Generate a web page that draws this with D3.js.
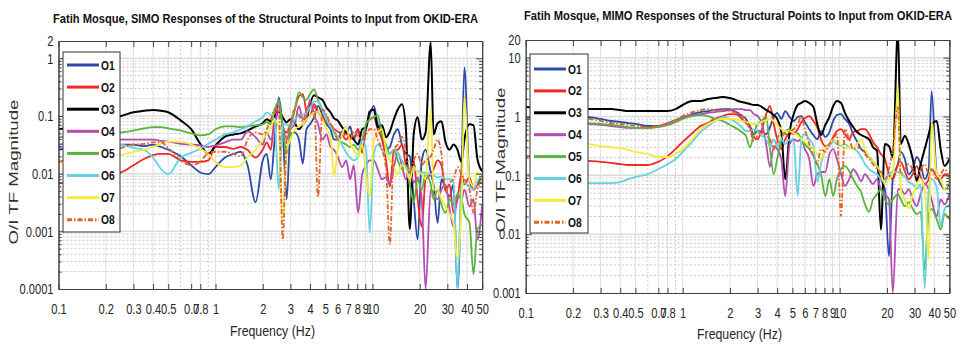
<!DOCTYPE html>
<html>
<head>
<meta charset="utf-8">
<script src="https://cdnjs.cloudflare.com/ajax/libs/d3/7.8.5/d3.min.js"></script>
<style>
  body { margin: 0; background: #fff; }
  svg text { font-family: "Liberation Sans", Arial, sans-serif; }
</style>
</head>
<body>
<div id="chart"></div>
<script>

// --> DATA
// Frequency grid (Hz) shared by every response curve
var freqs = [0.1,0.13,0.17,0.2,0.25,0.3,0.35,0.4,0.45,0.5,
             0.6,0.7,0.8,0.9,1.0,1.15,1.3,1.45,1.6,1.8,
             2.0,2.12,2.25,2.38,2.53,2.68,2.84,3.0,3.2,3.4,
             3.6,3.8,4.0,4.25,4.5,4.8,5.1,5.4,5.7,6.0,
             6.4,6.8,7.2,7.6,8.1,8.6,9.1,9.6,10.2,10.8,
             11.5,12.2,12.9,13.7,14.5,15.4,16.3,17.3,18.3,19.4,
             20.6,21.8,23.5,24.5,26,27.5,29.2,31,32.8,34.8,
             36.9,38.5,41.5,44,46.6,50];

// SIMO responses (left panel), O/I TF magnitude
var simoO1 = [0.026,0.029,0.031,0.032,0.032,0.032,0.03,0.032,0.029,0.026,
              0.02,0.014,0.0105,0.0098,0.013,0.019,0.022,0.024,0.014,0.0032,
              0.017,0.022,0.008,0.039,0.21,0.059,0.0036,0.048,0.052,0.039,
              0.015,0.059,0.072,0.095,0.15,0.105,0.072,0.059,0.039,0.039,
              0.054,0.048,0.066,0.039,0.059,0.026,0.059,0.105,0.15,0.072,
              0.048,0.026,0.029,0.048,0.059,0.032,0.022,0.02,0.0036,0.00072,
              0.017,0.026,0.0105,0.0065,0.0014,0.008,0.0053,0.004,0.0065,0.0001,
              0.0098,0.7,0.008,0.0053,0.0065,0.0098];
var simoO2 = [0.0068,0.0074,0.0086,0.0093,0.0105,0.014,0.018,0.021,0.022,0.022,
              0.017,0.016,0.016,0.017,0.029,0.029,0.027,0.029,0.026,0.019,
              0.026,0.035,0.026,0.105,0.18,0.066,0.052,0.072,0.13,0.22,
              0.24,0.12,0.1,0.16,0.12,0.095,0.078,0.072,0.059,0.054,
              0.048,0.039,0.048,0.043,0.059,0.023,0.072,0.087,0.095,0.059,
              0.039,0.017,0.006,0.026,0.026,0.032,0.014,0.008,0.017,0.0036,
              0.0012,0.008,0.0098,0.012,0.017,0.014,0.0053,0.0065,0.0021,0.0036,
              0.0098,0.0065,0.0086,0.0053,0.0065,0.007];
var simoO3 = [0.059,0.066,0.078,0.087,0.1,0.116,0.123,0.127,0.123,0.116,
              0.084,0.059,0.033,0.022,0.031,0.044,0.048,0.05,0.056,0.066,
              0.075,0.088,0.081,0.095,0.12,0.095,0.078,0.088,0.075,0.059,
              0.072,0.088,0.16,0.23,0.21,0.19,0.14,0.116,0.091,0.084,
              0.064,0.052,0.044,0.039,0.032,0.059,0.064,0.12,0.13,0.064,
              0.069,0.043,0.054,0.088,0.13,0.16,0.064,0.0011,0.048,0.095,
              0.039,0.052,1.9,0.048,0.075,0.081,0.035,0.026,0.032,0.026,
              0.016,0.039,0.072,0.069,0.018,0.011];
var simoO4 = [0.032,0.035,0.037,0.039,0.039,0.039,0.039,0.039,0.037,0.036,
              0.033,0.032,0.031,0.029,0.031,0.035,0.039,0.039,0.054,0.043,
              0.032,0.052,0.039,0.066,0.15,0.072,0.039,0.059,0.072,0.15,
              0.087,0.095,0.19,0.105,0.072,0.039,0.048,0.029,0.026,0.02,
              0.013,0.017,0.008,0.014,0.0021,0.0098,0.014,0.017,0.017,0.012,
              0.008,0.0086,0.0065,0.013,0.023,0.014,0.008,0.011,0.007,0.0086,
              0.0036,0.0001,0.0053,0.0044,0.0036,0.0053,0.0065,0.0024,0.0012,0.0044,
              0.0036,0.0053,0.0027,0.0036,0.00072,0.0029];
var simoO5 = [0.043,0.044,0.046,0.048,0.052,0.056,0.061,0.064,0.064,0.061,
              0.056,0.05,0.046,0.048,0.059,0.066,0.066,0.064,0.066,0.069,
              0.072,0.078,0.072,0.13,0.18,0.066,0.022,0.059,0.13,0.26,
              0.21,0.19,0.24,0.29,0.19,0.13,0.095,0.066,0.052,0.039,
              0.035,0.032,0.029,0.032,0.026,0.039,0.072,0.087,0.095,0.105,
              0.048,0.032,0.022,0.026,0.017,0.012,0.014,0.0065,0.0032,0.008,
              0.0053,0.0098,0.0065,0.0036,0.0053,0.0029,0.0021,0.0036,0.0029,0.0044,
              0.0036,0.002,0.0014,0.00018,0.0011,0.0013];
var simoO6 = [0.029,0.029,0.029,0.028,0.032,0.028,0.026,0.019,0.012,0.0098,
              0.019,0.023,0.027,0.033,0.039,0.048,0.052,0.059,0.066,0.081,
              0.095,0.115,0.105,0.087,0.0053,0.072,0.072,0.064,0.087,0.1,
              0.105,0.115,0.14,0.18,0.18,0.13,0.087,0.066,0.052,0.044,
              0.032,0.023,0.019,0.017,0.02,0.039,0.026,0.00095,0.022,0.032,
              0.026,0.022,0.022,0.026,0.023,0.017,0.013,0.012,0.012,0.011,
              0.0105,0.0105,0.0098,0.0093,0.0086,0.009,0.008,0.008,0.0074,0.0001,
              0.0065,0.007,0.006,0.0053,0.0074,0.0098];
var simoO7 = [0.016,0.016,0.017,0.019,0.021,0.024,0.026,0.029,0.033,0.036,
              0.036,0.032,0.027,0.022,0.016,0.013,0.013,0.014,0.019,0.026,
              0.039,0.048,0.064,0.087,0.059,0.0015,0.026,0.039,0.059,0.066,
              0.072,0.087,0.1,0.115,0.12,0.087,0.059,0.044,0.009,0.026,
              0.048,0.066,0.035,0.026,0.02,0.032,0.0098,0.004,0.039,0.052,
              0.059,0.026,0.017,0.013,0.0098,0.014,0.012,0.008,0.013,0.0105,
              0.0098,0.008,0.13,0.0053,0.0053,0.0036,0.0027,0.002,0.0014,0.00033,
              0.0027,0.22,0.008,0.006,0.0105,0.008];
var simoO8 = [0.016,0.019,0.022,0.024,0.028,0.032,0.033,0.035,0.035,0.028,
              0.017,0.014,0.016,0.023,0.024,0.024,0.022,0.02,0.039,0.052,
              0.048,0.059,0.087,0.13,0.13,0.00072,0.039,0.072,0.13,0.105,
              0.081,0.13,0.16,0.16,0.004,0.13,0.105,0.072,0.059,0.039,
              0.044,0.048,0.039,0.054,0.044,0.039,0.048,0.059,0.059,0.039,
              0.026,0.012,0.0006,0.026,0.032,0.044,0.026,0.0105,0.017,0.022,
              0.014,0.017,0.02,0.026,0.039,0.022,0.0048,0.007,0.008,0.013,
              0.0098,0.008,0.0053,0.0021,0.0053,0.008];

// MIMO responses (right panel), O/I TF magnitude
var mimoO1 = [0.91,0.94,0.98,0.98,0.98,0.91,0.84,0.81,0.775,0.75,
              0.69,0.69,0.72,0.81,0.94,1.1,1.19,1.24,1.29,1.34,
              1.34,1.24,1.15,1.02,0.91,0.69,0.5,0.565,0.545,0.5,
              0.66,0.98,1.15,0.91,1.24,0.98,0.84,0.98,1.02,0.81,
              0.61,0.485,0.41,0.565,0.45,0.545,0.84,1.06,1.1,0.91,
              0.75,0.5,0.38,0.28,0.25,0.205,0.17,0.144,0.086,0.058,
              0.0042,0.086,0.155,0.25,0.19,0.105,0.128,0.205,0.155,0.086,
              0.128,2.7,0.105,0.071,0.058,0.071];
var mimoO2 = [0.213,0.205,0.19,0.183,0.176,0.17,0.163,0.155,0.15,0.15,
              0.15,0.17,0.21,0.28,0.37,0.52,0.69,0.775,0.91,1.02,
              1.1,1.1,1.06,0.91,0.775,0.66,0.45,0.41,0.61,1.1,
              1.51,0.75,0.41,0.28,0.41,0.52,0.52,0.61,0.81,0.94,
              1.02,0.84,0.66,0.41,0.315,0.34,0.45,0.565,0.61,0.5,
              0.41,0.545,0.565,0.61,0.61,0.5,0.37,0.30,0.23,0.19,
              0.105,0.086,0.155,0.17,0.118,0.086,0.105,0.144,0.094,0.071,
              0.086,0.128,0.097,0.086,0.105,0.097];
var mimoO3 = [1.45,1.39,1.34,1.34,1.34,1.34,1.34,1.29,1.24,1.24,
              1.24,1.24,1.24,1.34,1.57,1.84,1.84,1.98,2.06,2.15,
              2.06,1.98,1.84,1.76,1.70,1.63,1.57,1.57,1.45,1.29,
              1.19,1.06,0.91,0.545,0.086,0.545,1.1,1.57,1.70,1.84,
              1.70,1.45,0.75,0.485,0.72,0.98,1.51,1.84,1.70,1.15,
              0.84,0.66,0.545,0.485,0.45,0.41,0.30,0.26,0.012,0.34,
              0.315,0.205,30,0.34,0.47,0.34,0.19,0.08,0.155,0.28,
              0.5,0.75,0.84,0.28,0.144,0.19];
var mimoO4 = [0.91,0.87,0.84,0.81,0.75,0.72,0.69,0.66,0.64,0.64,
              0.64,0.69,0.775,0.87,0.98,1.06,1.1,1.15,1.19,1.24,
              1.29,1.34,1.34,1.34,1.29,1.29,1.1,1.02,0.75,0.34,
              0.139,0.315,0.28,0.19,0.0445,0.34,0.41,0.38,0.41,0.28,
              0.19,0.066,0.105,0.114,0.114,0.23,0.28,0.19,0.105,0.066,
              0.086,0.128,0.105,0.08,0.105,0.086,0.071,0.086,0.058,0.048,
              0.039,0.001,0.058,0.058,0.048,0.058,0.039,0.030,0.048,0.071,
              0.058,0.039,0.020,0.039,0.032,0.048];
var mimoO5 = [0.91,0.87,0.84,0.81,0.775,0.75,0.72,0.69,0.66,0.64,
              0.64,0.66,0.72,0.81,0.91,1.02,1.06,1.02,0.91,0.84,
              0.72,0.66,0.61,0.545,0.47,0.30,0.5,0.75,0.84,1.02,
              0.28,0.105,0.19,0.41,0.545,0.61,0.5,0.52,0.41,0.34,
              0.28,0.213,0.155,0.105,0.0445,0.086,0.0445,0.086,0.128,0.144,
              0.118,0.086,0.066,0.052,0.032,0.024,0.039,0.048,0.058,0.039,
              0.032,0.039,0.048,0.039,0.030,0.035,0.027,0.022,0.024,0.0025,
              0.022,0.027,0.018,0.012,0.022,0.018];
var mimoO6 = [0.105,0.094,0.083,0.077,0.074,0.074,0.074,0.077,0.086,0.094,
              0.105,0.128,0.155,0.19,0.25,0.37,0.545,0.69,0.84,0.98,
              0.91,0.84,0.75,0.66,0.565,0.565,0.61,0.565,0.47,0.41,
              0.315,0.41,0.315,0.41,0.34,0.41,0.38,0.0445,0.41,0.5,
              0.41,0.315,0.077,0.155,0.28,0.315,0.37,0.34,0.315,0.34,
              0.30,0.28,0.26,0.205,0.155,0.128,0.114,0.105,0.086,0.077,
              0.105,0.114,0.114,0.105,0.094,0.077,0.071,0.058,0.071,0.0012,
              0.058,0.086,0.063,0.014,0.027,0.032];
var mimoO7 = [0.37,0.355,0.34,0.34,0.34,0.315,0.30,0.29,0.27,0.25,
              0.23,0.205,0.205,0.23,0.28,0.41,0.61,0.75,0.84,0.91,
              0.91,0.91,0.87,0.84,0.81,0.775,0.75,0.75,0.81,0.87,
              0.91,0.84,0.72,0.61,0.565,0.565,0.52,0.47,0.41,0.37,
              0.315,0.28,0.23,0.19,0.28,0.34,0.41,0.38,0.33,0.28,
              0.30,0.28,0.34,0.41,0.28,0.205,0.17,0.144,0.105,0.071,
              0.086,0.105,3.2,0.058,0.039,0.027,0.048,0.071,0.086,0.058,
              0.0038,0.84,0.105,0.086,0.058,0.086];
var mimoO8 = [0.98,0.98,0.98,0.94,0.91,0.84,0.775,0.75,0.72,0.69,
              0.66,0.69,0.75,0.87,1.02,1.19,1.29,1.34,1.29,1.29,
              1.24,1.19,1.15,1.06,0.84,0.61,0.38,0.47,0.545,0.47,
              0.41,0.28,0.41,0.545,0.5,0.545,0.61,0.75,0.98,0.61,
              0.34,0.213,0.155,0.28,0.25,0.34,0.41,0.5,0.0203,0.61,
              0.41,0.28,0.30,0.28,0.23,0.19,0.155,0.128,0.114,0.086,
              0.128,0.28,1.45,0.105,0.128,0.155,0.128,0.097,0.128,0.155,
              0.105,0.128,0.086,0.105,0.128,0.086];

var seriesNames = ["O1", "O2", "O3", "O4", "O5", "O6", "O7", "O8"];

// Tick labels
var xTickValues = [0.1,0.2,0.3,0.4,0.5,0.7,0.8,1,2,3,4,5,6,7,8,9,10,20,30,40,50];
var xMinorGrid = [0.6, 0.9];
var simoYTicks = [0.0001, 0.001, 0.01, 0.1, 1, 2];
var mimoYTicks = [0.001, 0.01, 0.1, 1, 10, 20];

// Styles
var seriesColors = ["#2a4aa8", "#f02828", "#000000", "#b44cb4",
                    "#5ab43c", "#64d2e0", "#f2ec3a", "#e0642a"];
var axisColor = "#404040";

// --> SVG DRAWING AREA
var width = 960,
    height = 345;

var svg = d3.select("#chart").append("svg")
    .attr("width", width)
    .attr("height", height);

// squeeze text horizontally (the source picture is narrow)
function squeeze(sel, k) {
  sel.each(function() {
    var len = this.getComputedTextLength();
    d3.select(this)
      .attr("textLength", len * k)
      .attr("lengthAdjust", "spacingAndGlyphs");
  });
}

var panels = [
  { id: "simo",
    title: "Fatih Mosque, SIMO Responses of the Structural Points to Input from OKID-ERA",
    series: [simoO1, simoO2, simoO3, simoO4, simoO5, simoO6, simoO7, simoO8],
    yDomain: [0.0001, 2], yTicks: simoYTicks,
    x0: 58.5, x1: 482.2, top: 41, bottom: 289,
    titleX: 265.5, titleY: 22.5, titleW: 425,
    ylabX: 18, ylabY: 172,
    xlabX: 272.5, xlabY: 336,
    legX: 63, legY: 52, legW: 57, legH: 180, legFirst: 65, legStep: 22.1 },
  { id: "mimo",
    title: "Fatih Mosque, MIMO Responses of the Structural Points to Input from OKID-ERA",
    series: [mimoO1, mimoO2, mimoO3, mimoO4, mimoO5, mimoO6, mimoO7, mimoO8],
    yDomain: [0.001, 20], yTicks: mimoYTicks,
    x0: 525.7, x1: 949.4, top: 40, bottom: 293,
    titleX: 738, titleY: 19.5, titleW: 428,
    ylabX: 505, ylabY: 160,
    xlabX: 739.5, xlabY: 339,
    legX: 530, legY: 54, legW: 58, legH: 179, legFirst: 69, legStep: 21.9 }
];

panels.forEach(drawPanel);

function drawPanel(p) {

  var x = d3.scaleLog().domain([0.1, 50]).range([p.x0, p.x1]);
  var y = d3.scaleLog().domain(p.yDomain).range([p.bottom, p.top]);

  var g = svg.append("g").attr("class", "panel-" + p.id);

  // decades and minor steps for the y grid
  var majorY = [], minorY = [];
  for (var e = -5; e <= 2; e++) {
    var dec = Math.pow(10, e);
    if (dec > p.yDomain[0] * 1.0001 && dec < p.yDomain[1] * 0.9999) majorY.push(dec);
    for (var m = 2; m <= 9; m++) {
      var v = m * dec;
      if (v > p.yDomain[0] * 1.0001 && v < p.yDomain[1] * 0.9999) minorY.push(v);
    }
  }

  // Grid
  g.selectAll(".ygrid-minor").data(minorY).enter().append("line")
      .attr("x1", p.x0).attr("x2", p.x1)
      .attr("y1", function(d) { return y(d); })
      .attr("y2", function(d) { return y(d); })
      .attr("stroke", "#b8b8b8").attr("stroke-width", 0.8)
      .attr("stroke-dasharray", "2,2");

  g.selectAll(".ygrid-major").data(majorY).enter().append("line")
      .attr("x1", p.x0).attr("x2", p.x1)
      .attr("y1", function(d) { return y(d); })
      .attr("y2", function(d) { return y(d); })
      .attr("stroke", "#dcdcdc").attr("stroke-width", 1.5);

  g.selectAll(".xgrid-major").data(xTickValues.slice(1, -1)).enter().append("line")
      .attr("y1", p.top).attr("y2", p.bottom)
      .attr("x1", function(d) { return x(d); })
      .attr("x2", function(d) { return x(d); })
      .attr("stroke", "#dedede").attr("stroke-width", 1);

  g.selectAll(".xgrid-minor").data(xMinorGrid).enter().append("line")
      .attr("y1", p.top).attr("y2", p.bottom)
      .attr("x1", function(d) { return x(d); })
      .attr("x2", function(d) { return x(d); })
      .attr("stroke", "#c0c0c0").attr("stroke-width", 0.8)
      .attr("stroke-dasharray", "2,2");

  // Clip for curves
  svg.append("clipPath").attr("id", "clip-" + p.id)
    .append("rect")
      .attr("x", p.x0).attr("y", p.top)
      .attr("width", p.x1 - p.x0).attr("height", p.bottom - p.top);

  var line = d3.line()
      .x(function(d) { return x(d[0]); })
      .y(function(d) { return y(d[1]); })
      .curve(d3.curveMonotoneX);

  var curves = g.append("g").attr("clip-path", "url(#clip-" + p.id + ")");

  p.series.forEach(function(vals, i) {
    var pts = freqs.map(function(f, j) { return [f, vals[j]]; });
    curves.append("path")
        .datum(pts)
        .attr("d", line)
        .attr("fill", "none")
        .attr("stroke", seriesColors[i])
        .attr("stroke-width", i == 2 ? 2 : 1.8)
        .attr("stroke-linejoin", "round")
        .attr("stroke-dasharray", i == 7 ? "5,2,1.5,2" : null);
  });

  // Axes
  var xAxis = d3.axisBottom(x).tickValues(xTickValues)
      .tickSize(-5).tickSizeOuter(0).tickPadding(14)
      .tickFormat(function(d) { return String(d); });
  var xTop = d3.axisTop(x).tickValues(xTickValues)
      .tickSize(-6).tickSizeOuter(0).tickFormat("");
  var yAxis = d3.axisLeft(y).tickValues(p.yTicks)
      .tickSize(-6).tickSizeOuter(0).tickPadding(5)
      .tickFormat(function(d) { return String(d); });
  var yRight = d3.axisRight(y).tickValues(p.yTicks)
      .tickSize(-6).tickSizeOuter(0).tickFormat("");
  var yMinorL = d3.axisLeft(y).tickValues(minorY).tickSize(-3).tickSizeOuter(0).tickFormat("");
  var yMinorR = d3.axisRight(y).tickValues(minorY).tickSize(-3).tickSizeOuter(0).tickFormat("");

  var axes = [
    g.append("g").attr("transform", "translate(0," + p.bottom + ")").call(xAxis),
    g.append("g").attr("transform", "translate(0," + p.top + ")").call(xTop),
    g.append("g").attr("transform", "translate(" + p.x0 + ",0)").call(yAxis),
    g.append("g").attr("transform", "translate(" + p.x1 + ",0)").call(yRight),
    g.append("g").attr("transform", "translate(" + p.x0 + ",0)").call(yMinorL),
    g.append("g").attr("transform", "translate(" + p.x1 + ",0)").call(yMinorR)
  ];

  axes.forEach(function(a) {
    a.selectAll("path, line").attr("stroke", axisColor);
    a.selectAll("text")
        .attr("fill", "#262626")
        .style("font-family", "'Liberation Sans', Arial, sans-serif")
        .style("font-size", "15px")
        .call(squeeze, 0.74);
  });

  // Legend
  var leg = g.append("g").attr("class", "legend");
  leg.append("rect")
      .attr("x", p.legX).attr("y", p.legY)
      .attr("width", p.legW).attr("height", p.legH)
      .attr("fill", "#fff").attr("stroke", "#333").attr("stroke-width", 1);

  seriesNames.forEach(function(name, i) {
    var ly = p.legFirst + i * p.legStep;
    leg.append("line")
        .attr("x1", p.legX + 4).attr("x2", p.legX + 36)
        .attr("y1", ly).attr("y2", ly)
        .attr("stroke", seriesColors[i])
        .attr("stroke-width", 3)
        .attr("stroke-dasharray", i == 7 ? "5,2,1.5,2" : null);
    leg.append("text")
        .attr("x", p.legX + 38).attr("y", ly + 4.5)
        .attr("font-size", "12.5px").attr("font-weight", "bold")
        .attr("fill", "#111")
        .text(name)
        .call(squeeze, 0.82);
  });

  // Titles and labels
  svg.append("text")
      .attr("x", p.titleX).attr("y", p.titleY)
      .attr("text-anchor", "middle")
      .attr("font-size", "12.5px").attr("font-weight", "bold")
      .attr("fill", "#111")
      .attr("textLength", p.titleW).attr("lengthAdjust", "spacingAndGlyphs")
      .text(p.title);

  svg.append("text")
      .attr("x", p.xlabX).attr("y", p.xlabY)
      .attr("text-anchor", "middle")
      .attr("font-size", "14px")
      .attr("fill", "#262626")
      .attr("textLength", 85).attr("lengthAdjust", "spacingAndGlyphs")
      .text("Frequency (Hz)");

  svg.append("text")
      .attr("transform", "translate(" + p.ylabX + "," + p.ylabY + ") scale(0.75,1) rotate(-90)")
      .attr("text-anchor", "middle")
      .attr("font-size", "18px")
      .attr("fill", "#333")
      .attr("textLength", 145).attr("lengthAdjust", "spacingAndGlyphs")
      .text("O/I TF Magnitude");
}

</script>
</body>
</html>
